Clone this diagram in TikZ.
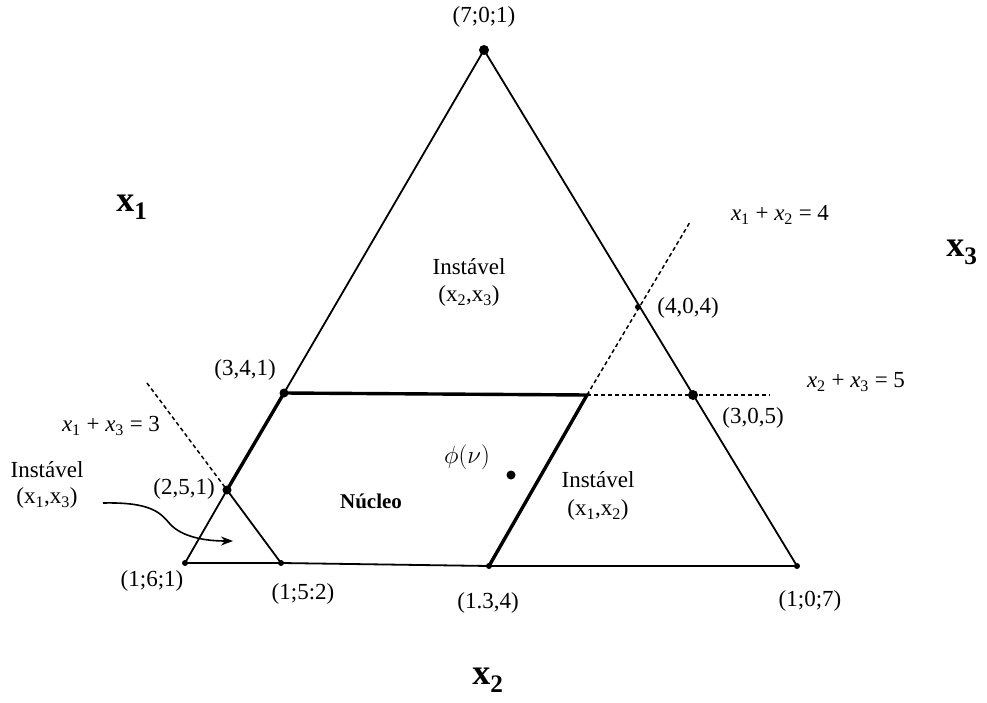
\documentclass[tikz,border=0pt]{standalone}
\usepackage{fontspec}
\setmainfont{Liberation Serif}
\usetikzlibrary{arrows.meta}
\newcommand{\xv}[1]{\textit{x}\textsubscript{#1}}
\begin{document}
\begin{tikzpicture}[x=1pt,y=-1pt,
  thinline/.style={line width=1.8pt},
  thickline/.style={line width=3.4pt},
  dashline/.style={line width=1.5pt,dash pattern=on 4pt off 3pt},
  lbl/.style={font=\fontsize{23}{26}\selectfont,inner sep=0pt},
  eq/.style={font=\fontsize{23}{26}\selectfont,inner sep=0pt},
  axis/.style={font=\fontsize{36}{40}\selectfont\bfseries,inner sep=0pt},
  dot/.style={circle,fill=black,inner sep=0pt,minimum size=#1},
  dot/.default=8pt]
\useasboundingbox (0,0) rectangle (987,703);
% points
\coordinate (T) at (484,50);
\coordinate (BL) at (185,563);
\coordinate (BR) at (797,566);
\coordinate (A341) at (284,393);
\coordinate (A251) at (227,490);
\coordinate (A152) at (281,563);
\coordinate (A134) at (489,566);
\coordinate (A404) at (638,307);
\coordinate (A305) at (693,395);
\coordinate (M) at (587,395);
\coordinate (D1) at (147,383);
\coordinate (D2) at (690,222);
\coordinate (D3) at (770,395);
% lines
\draw[thinline] (A341) -- (T) -- (BR);
\draw[thinline] (A251) -- (BL) -- (A152) -- (A134) -- (BR);
\draw[thinline] (A251) -- (A152);
\draw[thickline] (A251) -- (A341) -- (M) -- (A134);
\draw[dashline] (D1) -- (A251);
\draw[dashline] (M) -- (D2);
\draw[dashline] (M) -- (D3);
% dots
\node[dot=10pt] (pT) at (T) {};
\node[dot=9pt] (p341) at (A341) {};
\node[dot=9pt] (p251) at (A251) {};
\node[dot=6pt] (pBL) at (BL) {};
\node[dot=6pt] (p152) at (A152) {};
\node[dot=6pt] (p134) at (A134) {};
\node[dot=6pt] (pBR) at (BR) {};
\node[dot=6pt] (p404) at (A404) {};
\node[dot=10pt] (p305) at (A305) {};
\node[dot=9pt] (phi) at (511,475) {};
% labels
\node[lbl] (l701) at (484,17) {(7;0;1)};
\node[lbl] (l341) at (245,370) {(3,4,1)};
\node[lbl] (l404) at (688,308) {(4,0,4)};
\node[lbl] (l305) at (753,418) {(3,0,5)};
\node[lbl] (l251) at (184,489) {(2,5,1)};
\node[lbl] (l161) at (152,581) {(1;6;1)};
\node[lbl] (l152) at (303,594) {(1;5:2)};
\node[lbl] (l134) at (488,603) {(1.3,4)};
\node[lbl] (l107) at (810,601) {(1;0;7)};
\node[lbl] (i23a) at (469,267) {Instável};
\node[lbl] (i23b) at (469,296) {(x\textsubscript{2},x\textsubscript{3})};
\node[lbl] (i12a) at (598,480) {Instável};
\node[lbl] (i12b) at (598,510) {(x\textsubscript{1},x\textsubscript{2})};
\node[lbl] (i13a) at (47,470) {Instável};
\node[lbl] (i13b) at (47,498) {(x\textsubscript{1},x\textsubscript{3})};
\node[lbl,font=\fontsize{21}{24}\selectfont\bfseries] (nuc) at (371,501) {Núcleo};
\node[inner sep=0pt,font=\fontsize{31}{34}\selectfont] (phil) at (467,457) {$\phi(\nu)$};
\node[eq] (e12) at (780,215) {\xv{1} + \xv{2} = 4};
\node[eq] (e23) at (856,382) {\xv{2} + \xv{3} = 5};
\node[eq] (e13) at (111,426) {\xv{1} + \xv{3} = 3};
\node[axis] (X1) at (132,207) {x\textsubscript{1}};
\node[axis] (X3) at (962,252) {x\textsubscript{3}};
\node[axis] (X2) at (488,680) {x\textsubscript{2}};
% arrow
\coordinate (arS) at (103,503);
\coordinate (arE) at (233,541);
\draw[line width=1.6pt,-{Stealth[length=12pt,width=9pt]}] (arS) .. controls (150,502) and (160,512) .. (170,524) .. controls (182,537) and (205,541) .. (arE);
\end{tikzpicture}
\end{document}
